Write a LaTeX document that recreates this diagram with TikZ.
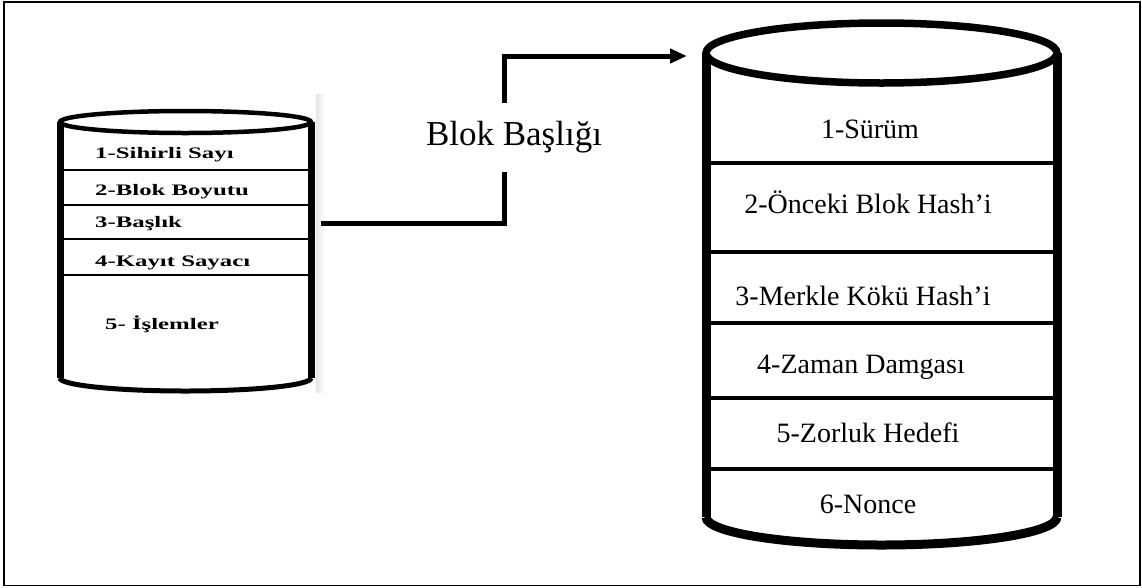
\documentclass[tikz,border=0pt]{standalone}
\usepackage{fontspec}
\setmainfont{Liberation Serif}
\newfontfamily\widefont[FakeStretch=1.55]{Liberation Serif}
\usepackage{tikz}
\usetikzlibrary{arrows.meta, positioning, calc}

\begin{document}
\begin{tikzpicture}[
    x=1pt, y=-1pt,
    field/.style={anchor=base west, inner sep=0pt, font=\widefont\bfseries\fontsize{16}{19}\selectfont},
    entry/.style={anchor=base, inner sep=0pt, font=\fontsize{28}{32}\selectfont},
    title/.style={inner sep=0pt, minimum height=69pt, font=\fontsize{35}{40}\selectfont},
    wall/.style={line width=7pt},
    bigwall/.style={line width=9pt},
    link/.style={line width=5pt},
    divider/.style={line width=4.5pt},
    arrow/.style={line width=5pt, -{Triangle[length=17pt, width=14pt]}}
]
\useasboundingbox (0,0) rectangle (1142,587);
\draw[line width=1.5pt] (4,2) rectangle (1140,585.5);

% small cylinder on the left
\shade[left color=gray!20, right color=white] (316,94) rectangle (325,392);
\draw[line width=2pt] (60,170) -- (311,170);
\draw[line width=2pt] (60,205) -- (311,205);
\draw[line width=2pt] (60,239) -- (311,239);
\draw[line width=2pt] (60,275) -- (311,275);
\draw[wall] (60,122) -- (60,378);
\draw[wall] (311,122) -- (311,378);
\draw[line width=4.5pt, fill=white] (185.5,122) ellipse [x radius=125.5, y radius=11];
\draw[line width=5pt] (60,378) arc[start angle=180, end angle=0, x radius=125.5, y radius=13];

\node[field] (magic) at (95,158) {1-Sihirli Sayı};
\node[field] (size) at (95,195) {2-Blok Boyutu};
\node[field] (header) at (95,227) {3-Başlık};
\node[field] (counter) at (95,266) {4-Kayıt Sayacı};
\node[field] (txs) at (105,329) {5- İşlemler};

% big cylinder on the right
\draw[divider] (706,163) -- (1057,163);
\draw[divider] (706,252) -- (1057,252);
\draw[divider] (706,323) -- (1057,323);
\draw[divider] (706,398) -- (1057,398);
\draw[divider] (706,469) -- (1057,469);
\draw[bigwall] (706,53) -- (706,517);
\draw[bigwall] (1057,53) -- (1057,517);
\draw[line width=7.5pt, fill=white] (881.5,53) ellipse [x radius=175.5, y radius=30];
\draw[line width=9pt] (706,517) arc[start angle=180, end angle=0, x radius=175.5, y radius=28];

\node[entry] (version) at (870,138) {1-Sürüm};
\node[entry] (prevhash) at (868,213) {2-Önceki Blok Hash’i};
\node[entry] (merkle) at (863,305) {3-Merkle Kökü Hash’i};
\node[entry] (time) at (861,373) {4-Zaman Damgası};
\node[entry] (target) at (868,442) {5-Zorluk Hedefi};
\node[entry] (nonce) at (868,513) {6-Nonce};

% header link between the two
\node[title] (head) at (514,137.5) {Blok Başlığı};
\coordinate (src) at (321,223);
\coordinate (dst) at (687,56);
\draw[link] (src) -| ([xshift=-10pt]head.south);
\draw[arrow] ([xshift=-10pt]head.north) |- (dst);
\end{tikzpicture}
\end{document}
